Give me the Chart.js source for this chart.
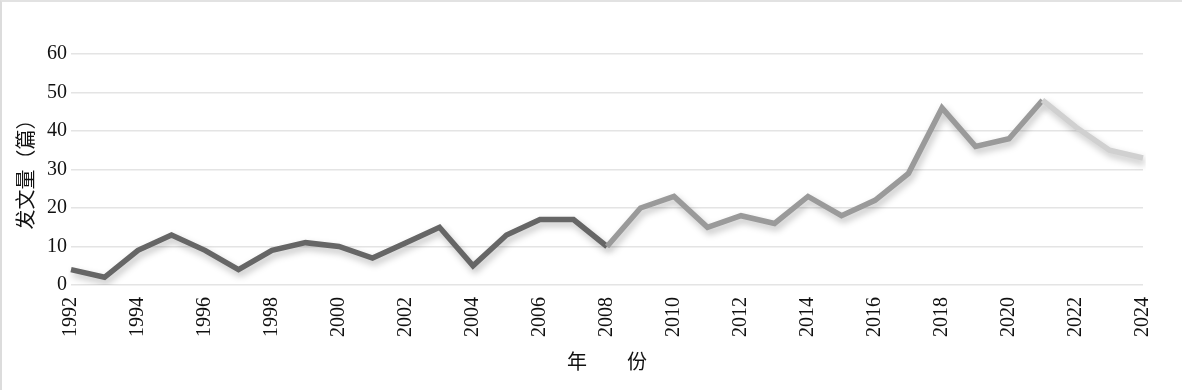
<!DOCTYPE html>
<html>
<head>
<meta charset="utf-8">
<script src="https://cdn.jsdelivr.net/npm/chart.js@4/dist/chart.umd.min.js"></script>
<style>
  html, body { margin: 0; padding: 0; background: #fff; }
  #wrap { position: relative; width: 1182px; height: 390px; box-sizing: border-box;
          border-left: 2px solid #dcdcdc; border-top: 2px solid #e2e2e2; }
</style>
</head>
<body>
<div id="wrap"><canvas id="line-chart" width="1180" height="388"></canvas></div>
<script>
const years = ['1992', '1993', '1994', '1995', '1996', '1997', '1998', '1999', '2000', '2001', '2002',
    '2003', '2004', '2005', '2006', '2007', '2008', '2009', '2010', '2011', '2012', '2013',
    '2014', '2015', '2016', '2017', '2018', '2019', '2020', '2021', '2022', '2023', '2024'];
const counts = [4, 2, 9, 13, 9, 4, 9, 11, 10, 7, 11,
    15, 5, 13, 17, 17, 10, 20, 23, 15, 18, 16,
    23, 18, 22, 29, 46, 36, 38, 48, 41, 35, 33];
const yTicks = [0, 10, 20, 30, 40, 50, 60];
const yTitle = '发文量（篇）';
const xTitle = '年　　份';

// line gets lighter in three stretches
function segColor(ctx) {
    const i = ctx.p0DataIndex;
    if (i < 16) return '#666666';
    if (i < 29) return '#9a9a9a';
    return '#d0d0d0';
}

const shadow = {
    id: 'shadow',
    beforeDatasetDraw(chart) {
        const c = chart.ctx;
        c.save();
        c.shadowColor = 'rgba(0,0,0,0.25)';
        c.shadowBlur = 7;
        c.shadowOffsetX = 2;
        c.shadowOffsetY = 4;
    },
    afterDatasetDraw(chart) {
        chart.ctx.restore();
    }
};

const ctx = document.getElementById('line-chart').getContext('2d');
const myChart = new Chart(ctx, {
    type: 'line',
    data: {
        labels: years,
        datasets: [{
            data: counts,
            borderColor: '#666666',
            segment: {borderColor: segColor},
            borderWidth: 5.5,
            pointRadius: 0,
            tension: 0,
            fill: false
        }]
    },
    plugins: [shadow],
    options: {
        responsive: false,
        animation: false,
        layout: {padding: {left: 11, right: 39, top: 52, bottom: 17}},
        plugins: {
            legend: {display: false},
            title: {display: false},
            tooltip: {enabled: false}
        },
        scales: {
            x: {
                offset: false,
                grid: {display: false, drawTicks: false},
                border: {display: false},
                ticks: {
                    autoSkip: false,
                    maxRotation: 90,
                    minRotation: 90,
                    padding: 12,
                    color: '#111',
                    font: {family: '"Liberation Serif", "Times New Roman", serif', size: 20},
                    callback: (v, i) => i % 2 === 0 ? years[i] : ''
                },
                title: {
                    display: true,
                    text: xTitle,
                    color: '#111',
                    padding: {top: 0, bottom: 0},
                    font: {family: '"Noto Sans CJK SC", sans-serif', size: 20}
                }
            },
            y: {
                min: 0,
                max: 60,
                afterBuildTicks: axis => { axis.ticks = yTicks.map(v => ({value: v})); },
                grid: {color: '#e4e4e4', lineWidth: 1.5, drawTicks: false},
                border: {display: false},
                ticks: {
                    padding: 4,
                    color: '#111',
                    font: {family: '"Liberation Serif", "Times New Roman", serif', size: 20}
                },
                title: {
                    display: true,
                    text: yTitle,
                    color: '#111',
                    padding: {top: 0, bottom: 6},
                    font: {family: '"Noto Sans CJK SC", sans-serif', size: 20}
                }
            }
        }
    }
});
</script>
</body>
</html>
